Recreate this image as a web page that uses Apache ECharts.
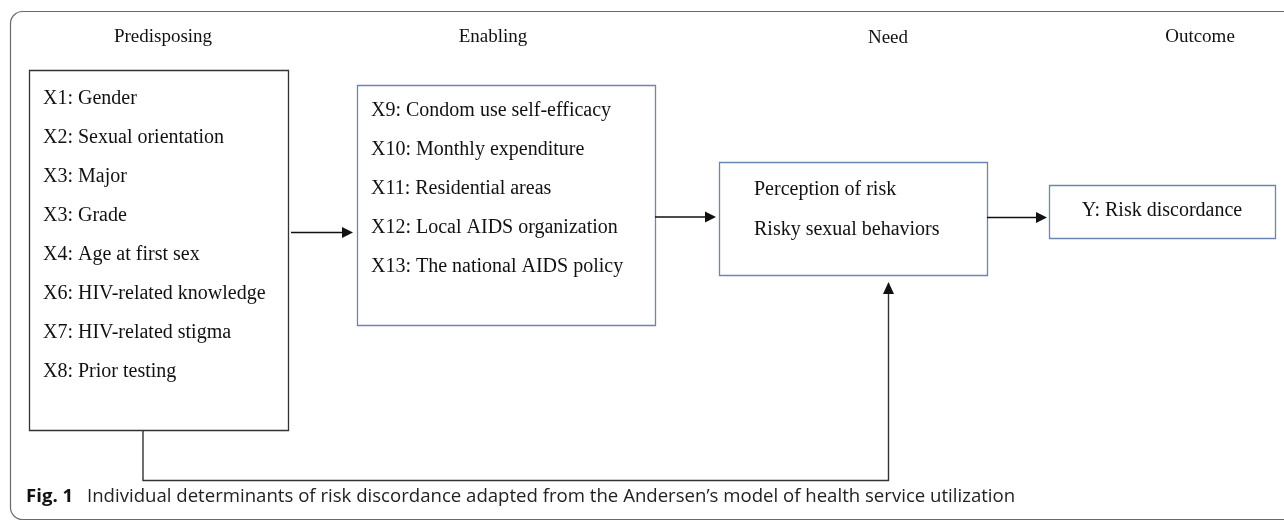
<!DOCTYPE html>
<html>
<head>
<meta charset="utf-8">
<script src="https://cdn.jsdelivr.net/npm/echarts@6/dist/echarts.min.js"></script>
<style>
  html, body { margin: 0; padding: 0; background: #fff; }
  #chart { width: 1284px; height: 521px; }
</style>
</head>
<body>
<div id="chart"></div>
<script>
// column headings of the model
const headers = ['Predisposing', 'Enabling', 'Need', 'Outcome'];

// items in each box
const predisposing = [
  'X1: Gender',
  'X2: Sexual orientation',
  'X3: Major',
  'X3: Grade',
  'X4: Age at first sex',
  'X6: HIV-related knowledge',
  'X7: HIV-related stigma',
  'X8: Prior testing',
];
const enabling = [
  'X9: Condom use self-efficacy',
  'X10: Monthly expenditure',
  'X11: Residential areas',
  'X12: Local AIDS organization',
  'X13: The national AIDS policy',
];
const need = ['Perception of risk', 'Risky sexual behaviors'];
const outcome = ['Y: Risk discordance'];

const captionLabel = 'Fig. 1';
const captionText = 'Individual determinants of risk discordance adapted from the Andersen\u2019s model of health service utilization';

const serif = '"Liberation Serif", "DejaVu Serif", serif';
const sans = '"Open Sans", "Noto Sans", sans-serif';
const blue = '#6b86b3';

const chart = echarts.init(document.getElementById('chart'), null, { renderer: 'canvas' });

function box(x, y, w, h, stroke) {
  return {
    type: 'rect',
    shape: { x: x + 0.5, y: y + 0.5, width: w, height: h },
    style: { fill: '#fff', stroke: stroke, lineWidth: 1.3 },
  };
}

function itemTexts(items, x, y0, step, align) {
  return items.map((t, i) => ({
    type: 'text',
    x: x,
    y: y0 + i * step,
    style: {
      text: t,
      font: '20px ' + serif,
      fill: '#111',
      align: align || 'left',
      verticalAlign: 'middle',
    },
  }));
}

function arrowLine(points, dir) {
  const last = points[points.length - 1];
  let tri;
  if (dir === 'right') {
    tri = [[last[0], last[1]], [last[0] - 11, last[1] - 5.5], [last[0] - 11, last[1] + 5.5]];
  } else {
    tri = [[last[0], last[1]], [last[0] - 5.5, last[1] + 11], [last[0] + 5.5, last[1] + 11]];
  }
  const line = points.slice();
  line[line.length - 1] = dir === 'right' ? [last[0] - 9, last[1]] : [last[0], last[1] + 9];
  return [
    { type: 'polyline', shape: { points: line }, style: { stroke: '#111', lineWidth: 1.7, fill: null } },
    { type: 'polygon', shape: { points: tri }, style: { fill: '#111' } },
  ];
}

const headerX = [163, 493, 888, 1200];
const headerY = [37, 37, 38, 37];

const elements = [
  // outer frame
  {
    type: 'rect',
    shape: { x: 10.5, y: 11.5, width: 1320, height: 508, r: 12 },
    style: { fill: null, stroke: '#6a6a6a', lineWidth: 1.2 },
  },
  ...headers.map((h, i) => ({
    type: 'text',
    x: headerX[i],
    y: headerY[i],
    style: { text: h, font: '19px ' + serif, fill: '#111', align: 'center', verticalAlign: 'middle' },
  })),
  // connector from predisposing to need
  {
    type: 'polyline',
    shape: { points: [[143, 430], [143, 480.5], [888.5, 480.5], [888.5, 292]] },
    style: { stroke: '#333', lineWidth: 1.4, fill: null },
  },
  { type: 'polygon', shape: { points: [[888.5, 282], [883, 294], [894, 294]] }, style: { fill: '#111' } },
  box(29, 70, 259, 360, '#333'),
  ...itemTexts(predisposing, 43, 99, 39),
  box(357, 85, 298, 240, blue),
  ...itemTexts(enabling, 371, 111, 39),
  box(719, 162, 268, 113, blue),
  ...itemTexts(need, 754, 190, 40),
  box(1049, 185, 226, 53, blue),
  ...itemTexts(outcome, 1162, 211, 0, 'center'),
  ...arrowLine([[291, 232.5], [353, 232.5]], 'right'),
  ...arrowLine([[655, 217], [716, 217]], 'right'),
  ...arrowLine([[987, 217.5], [1047, 217.5]], 'right'),
  // caption
  {
    type: 'text',
    x: 26,
    y: 497,
    style: { text: captionLabel, font: 'bold 18.6px ' + sans, fill: '#111', verticalAlign: 'middle' },
  },
  {
    type: 'text',
    x: 87,
    y: 497,
    style: { text: captionText, font: '18.6px ' + sans, fill: '#222', verticalAlign: 'middle' },
  },
];

chart.setOption({
  animation: false,
  backgroundColor: '#fff',
  graphic: { elements: elements },
});
</script>
</body>
</html>
